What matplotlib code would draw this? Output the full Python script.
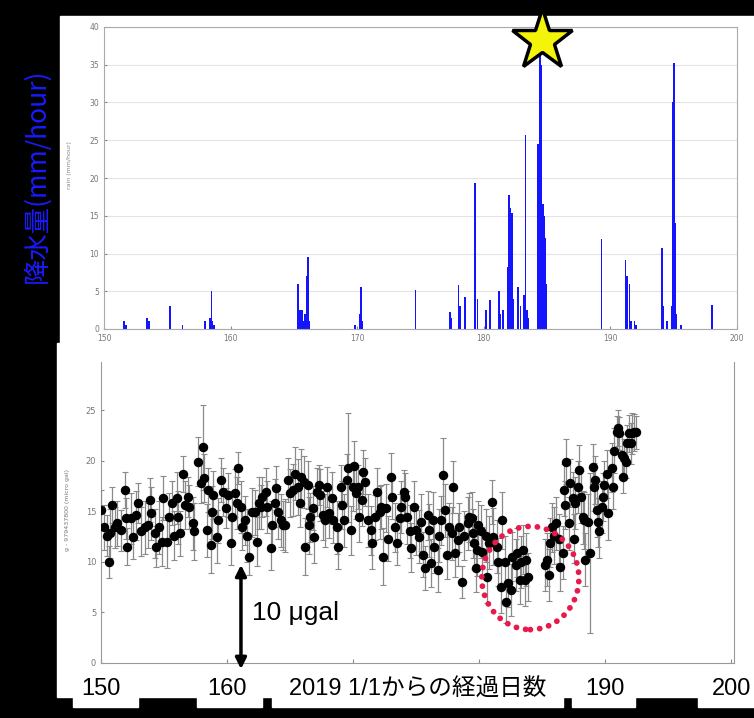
import matplotlib
matplotlib.use('Agg')
import matplotlib.pyplot as plt
from matplotlib.patches import Rectangle, Ellipse

# hourly rainfall (day of year 2019, mm/hour)
rain_day = [151.6, 151.65, 151.75, 153.4, 153.5, 153.55, 155.2, 156.2, 158.0,
            158.4, 158.5, 158.55, 158.7,
            165.3, 165.35, 165.5, 165.65, 165.8, 165.9, 166.0, 166.1, 166.15, 166.2,
            169.8, 170.2, 170.3, 170.35, 174.6, 177.3, 177.4,
            178.0, 178.1, 178.5, 179.3, 179.35, 179.5, 180.2, 180.5,
            181.2, 181.3, 181.5, 181.9, 182.0, 182.1, 182.2, 182.3, 182.7, 182.9,
            183.2, 183.3, 183.4, 183.5,
            184.25, 184.3, 184.35, 184.4, 184.45, 184.5, 184.55, 184.6, 184.65,
            184.7, 184.75, 184.8, 184.85, 184.9, 184.95,
            189.3, 191.2, 191.3, 191.5, 191.6, 191.9, 192.0,
            194.1, 194.15, 194.5,
            194.85, 194.9, 194.95, 195.0, 195.05, 195.1, 195.15, 195.2,
            195.6, 198.0]
rain_mm = [1.0, 0.5, 0.5, 1.5, 1.0, 1.0, 3.0, 0.5, 1.0,
           1.5, 5.0, 1.0, 0.5,
           6.0, 2.5, 2.5, 2.5, 1.0, 2.0, 7.0, 9.5, 5.0, 1.0,
           0.5, 2.0, 5.5, 1.0, 5.2, 2.3, 1.5,
           5.8, 3.0, 4.3, 19.3, 8.0, 4.0, 2.5, 3.8,
           5.0, 2.0, 2.5, 8.2, 17.7, 16.0, 15.3, 4.0, 5.5, 3.0,
           4.5, 25.7, 2.5, 1.5,
           8.0, 24.5, 17.0, 16.5, 40.0, 35.0, 16.5, 16.0, 16.5,
           16.0, 15.0, 14.0, 12.0, 6.0, 3.0,
           11.9, 9.2, 7.0, 6.0, 1.0, 1.0, 0.5,
           10.7, 3.0, 1.0,
           3.0, 24.0, 30.0, 35.2, 27.0, 14.0, 5.0, 2.0,
           0.5, 3.2]

# gravity (g - 979437800, micro gal) with error
g_day = [150.0, 150.2, 150.5, 150.6, 150.7, 150.9, 151.1, 151.3, 151.6, 151.9,
         152.0, 152.1, 152.4, 152.5, 152.8, 152.9, 153.2, 153.5, 153.7, 153.9,
         154.0, 154.3, 154.4, 154.6, 154.8, 154.9, 155.2, 155.4, 155.6, 155.8,
         156.0, 156.1, 156.3, 156.5, 156.7, 156.9, 157.0, 157.3, 157.4, 157.7,
         157.9, 158.1, 158.2, 158.4, 158.5, 158.7, 158.8, 158.9, 159.2, 159.3,
         159.5, 159.7, 159.9, 160.1, 160.3, 160.4, 160.6, 160.8, 160.9, 161.1,
         161.2, 161.4, 161.6, 161.7, 162.0, 162.2, 162.4, 162.5, 162.7, 162.8,
         163.1, 163.2, 163.5, 163.6, 163.8, 163.9, 164.0, 164.3, 164.4, 164.6,
         164.8, 165.0, 165.2, 165.4, 165.6, 165.8, 165.9, 166.1, 166.2, 166.4,
         166.5, 166.6, 166.8, 166.9, 167.1, 167.3, 167.4, 167.6, 167.8, 167.9,
         168.1, 168.3, 168.4, 168.7, 168.8, 169.0, 169.1, 169.3, 169.5, 169.6,
         169.8, 170.0, 170.1, 170.2, 170.4, 170.5, 170.7, 170.8, 170.9, 171.2,
         171.4, 171.5, 171.7, 171.9, 172.1, 172.2, 172.4, 172.6, 172.8, 173.0,
         173.1, 173.3, 173.5, 173.7, 173.8, 174.0, 174.1, 174.3, 174.5, 174.6,
         174.8, 175.0, 175.2, 175.4, 175.5, 175.7, 175.9, 176.0, 176.2, 176.3,
         176.4, 176.7, 176.8, 177.0, 177.1, 177.3, 177.4, 177.6, 177.8, 177.9,
         178.1, 178.3, 178.4, 178.6, 178.8, 179.1, 179.2, 179.4, 179.5, 179.6,
         179.7, 179.8, 179.9, 180.1, 180.2, 180.5, 180.6, 180.8, 181.0, 181.1,
         181.4, 181.5, 181.7, 181.8, 182.0, 182.1, 182.3, 182.5, 182.6, 182.9,
         183.0, 183.2, 183.3, 183.5, 183.6, 183.7, 183.9,
         185.2, 185.4, 185.5, 185.6, 185.8, 185.9, 186.1, 186.3, 186.4, 186.6,
         186.7, 186.8, 186.9, 187.1, 187.2, 187.4, 187.5, 187.6, 187.8, 187.9,
         188.1, 188.2, 188.3, 188.4, 188.6, 188.8, 189.0, 189.1, 189.2, 189.3,
         189.4, 189.5, 189.7, 189.8, 189.9, 190.1, 190.2, 190.5, 190.6, 190.7,
         190.9, 191.0, 191.1, 191.3, 191.4, 191.5, 191.6, 191.7, 191.9, 192.0,
         192.1, 192.3, 192.4]
g_val = [15.1, 13.4, 12.6, 10.0, 12.8, 15.6, 13.4, 13.8, 13.1, 17.1,
         14.3, 11.5, 14.3, 12.5, 14.6, 15.8, 13.0, 13.4, 13.6, 16.1,
         14.8, 12.8, 11.5, 13.4, 12.0, 16.3, 12.0, 14.4, 15.8, 12.6,
         16.3, 14.4, 12.8, 18.7, 15.6, 16.4, 15.4, 13.8, 13.0, 19.9,
         17.8, 21.3, 18.3, 13.1, 17.1, 11.7, 14.9, 16.6, 12.5, 14.1,
         18.1, 16.9, 15.3, 16.6, 11.9, 14.4, 16.8, 15.8, 19.3, 15.4,
         13.4, 14.1, 12.6, 10.5, 14.9, 14.9, 12.0, 15.8, 15.4, 16.4,
         16.9, 15.4, 11.4, 13.6, 15.8, 17.3, 14.9, 14.1, 13.6, 13.6,
         18.1, 16.8, 17.1, 18.7, 17.4, 15.8, 18.4, 17.9, 11.5, 17.6,
         13.6, 14.4, 15.3, 12.5, 16.9, 17.6, 16.6, 14.6, 14.1, 17.4,
         14.8, 16.3, 14.1, 13.4, 11.5, 17.4, 15.6, 14.1, 18.1, 19.3,
         13.1, 17.4, 19.5, 16.8, 17.4, 14.4, 16.1, 18.9, 17.9, 14.1,
         13.1, 11.9, 14.4, 16.9, 14.9, 15.4, 10.5, 15.3, 12.3, 18.4,
         16.4, 13.4, 11.9, 14.3, 15.4, 16.9, 16.4, 14.4, 13.0, 11.4,
         15.4, 13.1, 12.5, 13.9, 10.7, 9.4, 14.6, 13.1, 9.9, 14.1,
         11.5, 9.2, 12.6, 14.1, 18.6, 15.1, 10.7, 13.4, 12.8, 17.4,
         10.9, 12.2, 13.4, 8.0, 12.6, 13.8, 14.4, 14.3, 12.8, 11.9,
         9.4, 11.2, 13.6, 13.0, 11.0, 12.6, 8.5, 11.9, 15.9, 12.5,
         11.5, 10.0, 7.5, 14.1, 10.0, 6.0, 7.9, 7.2, 10.5, 9.7,
         10.9, 8.2, 10.0, 11.2, 8.2, 10.2, 8.5,
         9.7, 10.2, 8.7, 11.9, 13.4, 12.6, 13.8, 12.3, 9.5, 10.9,
         17.1, 15.6, 19.9, 13.8, 17.8, 16.3, 12.3, 15.8, 17.4, 19.1,
         16.4, 14.4, 14.1, 10.2, 13.9, 10.9, 19.4, 17.4, 18.1, 15.1,
         13.9, 13.0, 15.4, 16.4, 17.6, 18.7, 14.8, 19.3, 17.4, 21.0,
         22.8, 23.2, 22.7, 20.6, 18.4, 20.3, 19.9, 21.7, 22.7, 21.7,
         22.7, 22.8, 22.8]
g_err = [2.0, 2.2, 2.0, 1.6, 2.4, 1.8, 2.0, 2.2, 2.0, 1.8,
         2.0, 1.8, 2.5, 2.2, 2.4, 2.0, 2.4, 2.6, 2.2, 2.2,
         2.6, 2.4, 2.0, 2.6, 2.4, 2.2, 2.6, 2.4, 2.2, 2.4,
         2.6, 2.6, 2.2, 1.8, 2.4, 2.0, 2.2, 2.6, 2.8, 2.4,
         2.0, 4.2, 2.4, 2.6, 2.2, 2.8, 2.6, 2.4, 2.6, 2.2,
         2.2, 2.4, 2.0, 2.2, 2.2, 2.6, 2.4, 2.6, 1.6, 2.6,
         2.2, 2.4, 2.6, 1.8, 2.4, 2.2, 2.4, 2.6, 2.2, 2.0,
         2.4, 2.6, 2.2, 2.4, 2.4, 2.2, 2.6, 2.6, 2.4, 2.6,
         2.2, 2.4, 2.6, 2.6, 2.8, 2.4, 2.8, 2.6, 2.8, 2.4,
         2.8, 2.4, 2.2, 2.6, 2.4, 2.0, 2.6, 2.4, 2.6, 2.0,
         2.4, 2.6, 2.2, 2.6, 2.2, 2.2, 2.4, 2.6, 2.6, 5.4,
         2.4, 2.4, 2.4, 2.6, 2.2, 2.4, 2.6, 2.2, 2.4, 2.6,
         2.4, 2.6, 2.2, 2.4, 2.6, 2.2, 2.8, 2.4, 2.2, 2.4,
         2.2, 2.4, 2.2, 2.4, 2.6, 2.2, 2.4, 2.6, 2.6, 2.4,
         2.6, 2.4, 2.6, 2.8, 2.2, 2.2, 2.4, 2.6, 2.4, 2.8,
         2.6, 2.2, 2.6, 2.4, 3.6, 2.6, 2.4, 2.4, 2.6, 2.6,
         2.4, 2.6, 2.4, 1.6, 2.4, 2.6, 2.4, 2.6, 2.4, 2.6,
         2.4, 2.6, 2.4, 2.6, 2.4, 2.6, 2.6, 2.6, 2.2, 2.8,
         2.6, 2.4, 2.6, 2.8, 2.6, 2.0, 2.4, 2.6, 2.4, 2.6,
         2.4, 2.4, 2.6, 2.4, 2.6, 2.6, 2.4,
         2.6, 2.6, 2.6, 2.4, 2.4, 2.8, 2.6, 2.4, 2.4, 2.6,
         2.6, 2.4, 2.2, 2.6, 2.4, 2.6, 2.4, 2.6, 2.6, 2.4,
         2.6, 2.6, 2.8, 2.6, 2.8, 7.9, 2.2, 2.4, 2.4, 2.6,
         2.4, 2.6, 2.6, 2.4, 2.4, 2.4, 2.6, 2.4, 2.2, 2.2,
         1.6, 1.8, 1.6, 2.0, 1.6, 1.8, 1.6, 1.8, 1.8, 2.0,
         2.0, 1.8, 1.6]

big_ticks = [150, 160, 170, 180, 190, 200]
big_tick_labels = ['150', '160', '', '', '190', '200']
star_day, star_mm = 184.6, 38.3

W, H = 754, 718
fig = plt.figure(figsize=(W / 100, H / 100), dpi=100, facecolor='black')

# backdrop in pixel coordinates (black screen with white panels)
bg = fig.add_axes([0, 0, 1, 1], zorder=-1)
bg.set_xlim(0, W)
bg.set_ylim(H, 0)
bg.axis('off')
bg.add_patch(Rectangle((0, 0), W, H, color='black'))
bg.add_patch(Rectangle((60, 16), W - 60, 329, color='white'))
bg.add_patch(Rectangle((57, 343), W - 57, 354, color='white'))
for x0, x1 in [(73, 138), (197, 262), (272, 563), (572, 635), (698, 754)]:
    bg.add_patch(Rectangle((x0, 696), x1 - x0, 11, color='white'))

gray = '#8a8a8a'

# rainfall panel
ax1 = fig.add_axes([104 / W, 389 / H, 633 / W, 302 / H])
ax1.set_facecolor('none')
ax1.bar(rain_day, rain_mm, width=0.14, color='#1414ff', linewidth=0)
ax1.set_xlim(150, 200)
ax1.set_ylim(0, 40)
ax1.set_xticks([150, 160, 170, 180, 190, 200])
ax1.set_yticks(range(0, 41, 5))
ax1.yaxis.grid(True, color='#e4e4e4', linewidth=0.8)
ax1.set_axisbelow(True)
ax1.tick_params(labelsize=5.5, labelcolor='#777777', color=gray, length=2, direction='in')
for s in ax1.spines.values():
    s.set_color('#aaaaaa')
    s.set_linewidth(0.8)
ax1.plot(star_day, star_mm, marker='*', ms=46, mfc='#f4f40a', mec='black', mew=2.5,
         clip_on=False, zorder=10)
fig.text(70 / W, 1 - 165 / H, 'rain (mm/hour)', rotation=90, fontsize=4.5,
         color='#888888', ha='center', va='center')
fig.text(37 / W, 1 - 176 / H, '降水量(mm/hour)', rotation=90, fontsize=19,
         color='#1a1aff', ha='center', va='center',
         family=['Noto Sans CJK JP', 'DejaVu Sans'])

# gravity panel
ax2 = fig.add_axes([101 / W, 55 / H, 633 / W, 301 / H])
ax2.set_facecolor('none')
ax2.errorbar(g_day, g_val, yerr=g_err, fmt='o', ms=5.8, mfc='black', mec='black',
             ecolor=gray, elinewidth=0.9, capsize=2, capthick=0.8, zorder=3)
ax2.set_xlim(150, 200.2)
ax2.set_ylim(0, 29.75)
ax2.set_yticks(range(0, 26, 5))
ax2.set_xticks(big_ticks)
ax2.set_xticklabels(big_tick_labels, fontsize=17,
                    family=['Liberation Sans', 'DejaVu Sans'])
ax2.tick_params(axis='x', direction='in', length=3, color=gray, pad=11)
ax2.tick_params(axis='y', direction='in', length=2, color=gray, labelsize=6,
                labelcolor='#777777')
ax2.spines['top'].set_visible(False)
for k in ['left', 'right', 'bottom']:
    ax2.spines[k].set_color('#999999')
    ax2.spines[k].set_linewidth(0.8)
ax2.text(0.5, -0.087, '2019 1/1からの経過日数', transform=ax2.transAxes, fontsize=17,
         ha='center', va='center', family=['Liberation Sans', 'Noto Sans CJK JP'])
fig.text(68 / W, 1 - 510 / H, 'g - 979437800 (micro gal)', rotation=90, fontsize=4.5,
         color='#777777', ha='center', va='center')

ax2.annotate('', xy=(161.1, -0.6), xytext=(161.1, 9.7),
             arrowprops=dict(arrowstyle='<|-|>', lw=2.5, color='black', mutation_scale=16,
                             shrinkA=0, shrinkB=0),
             annotation_clip=False)
ax2.text(162.0, 4.9, '10 μgal', fontsize=19, ha='left', va='center',
         family=['Liberation Sans', 'DejaVu Sans'])
ax2.add_patch(Ellipse((184.05, 8.4), 7.7, 10.2, fill=False, edgecolor='#e8194b',
                      linewidth=4.2, linestyle=(0, (0.01, 1.6)), capstyle='round',
                      zorder=5))

fig.savefig('out.png', dpi=100, facecolor='black')
